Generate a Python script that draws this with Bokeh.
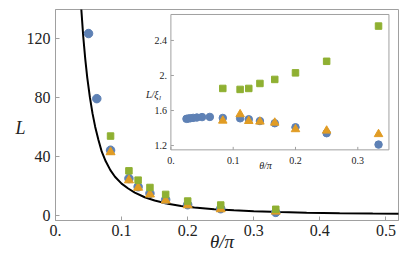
import json
from bokeh.plotting import figure
from bokeh.models import (FixedTicker, CustomJSTickFormatter, Label, Range1d, LinearAxis)
from bokeh.embed import file_html
from bokeh.resources import INLINE

# ---------------- data ----------------
# main panel: L vs theta/pi
blue_theta = [0.05, 0.0625, 0.0833, 0.1111, 0.125, 0.1429, 0.1667, 0.2, 0.25, 0.3333]
blue_L = [123.2, 79.0, 44.0, 24.8, 19.2, 14.7, 10.4, 7.0, 4.3, 1.8]
orange_theta = [0.0833, 0.1111, 0.125, 0.1429, 0.1667, 0.2, 0.25, 0.3333]
orange_L = [42.7, 23.6, 18.6, 14.0, 9.9, 6.7, 4.0, 2.4]
green_theta = [0.0833, 0.1111, 0.125, 0.1429, 0.1667, 0.2, 0.25, 0.3333]
green_L = [53.6, 30.0, 23.7, 18.7, 14.0, 9.5, 6.8, 3.9]

# black reference curve
curve_theta = [0.0375, 0.039, 0.042, 0.045, 0.048, 0.052, 0.056, 0.060, 0.065, 0.070,
               0.076, 0.083, 0.090, 0.100, 0.110, 0.120, 0.135, 0.150, 0.170, 0.190,
               0.210, 0.240, 0.270, 0.300, 0.340, 0.380, 0.430, 0.480, 0.520]
curve_L = [152.0, 140.0, 121.0, 106.0, 93.5, 80.0, 69.0, 60.0, 51.0, 43.0,
           36.5, 30.5, 26.0, 21.3, 18.0, 15.2, 12.1, 9.9, 7.7, 6.2,
           5.1, 4.0, 3.2, 2.6, 2.0, 1.6, 1.27, 1.02, 0.88]

# inset: L/xi vs theta/pi
in_blue_theta = [0.025, 0.0278, 0.0313, 0.0357, 0.0417, 0.05, 0.0625, 0.0833, 0.1111,
                 0.125, 0.1429, 0.1667, 0.2, 0.25, 0.3333]
in_blue_v = [1.505, 1.508, 1.512, 1.516, 1.52, 1.525, 1.527, 1.515, 1.511,
             1.50, 1.48, 1.455, 1.409, 1.341, 1.211]
in_orange_theta = [0.0833, 0.1111, 0.125, 0.1429, 0.1667, 0.2, 0.25, 0.3333]
in_orange_v = [1.484, 1.557, 1.48, 1.473, 1.461, 1.386, 1.370, 1.33]
in_green_theta = [0.0833, 0.1111, 0.125, 0.1429, 0.1667, 0.2, 0.25, 0.3333]
in_green_v = [1.852, 1.841, 1.852, 1.909, 1.955, 2.03, 2.162, 2.564]

main_xticks = [0, 0.1, 0.2, 0.3, 0.4, 0.5]
main_yticks = [0, 40, 80, 120]
inset_xticks = [0, 0.1, 0.2, 0.3]
inset_xlabels = ["0.", "0.1", "0.2", "0.3"]
inset_yticks = [1.2, 1.6, 2.0, 2.4]
inset_ylabels = ["1.2", "1.6", "2.", "2.4"]

# axis limits
main_xlim = (0, 0.519)
main_ylim = (-3.7, 139.5)
inset_xlim = (0.0, 0.35)
inset_ylim = (1.151, 2.6966)
# the inset scales, spread over the whole main frame
inset_x_full = (-0.18523, 0.36533)
inset_y_full = (0.34432, 2.75341)

# ---------------- style ----------------
SERIF = "Liberation Serif"
BLUE = "#5E81B5"
ORANGE = "#E19C24"
GREEN = "#8FB032"
FRAME = "#a0a0a0"
TXT = "#222222"
W, H = 415, 254

fmt_code = "const s = tick.toFixed(1); return s.endsWith('.0') ? s.slice(0, -1) : s;"

p = figure(width=W, height=H, output_backend="svg", toolbar_location=None,
           x_range=Range1d(*main_xlim), y_range=Range1d(*main_ylim),
           min_border_left=55, min_border_right=17, min_border_top=9, min_border_bottom=33)
p.extra_x_ranges = {"ix": Range1d(*inset_x_full)}
p.extra_y_ranges = {"iy": Range1d(*inset_y_full)}
p.grid.visible = False
p.outline_line_color = FRAME

for ax in p.axis:
    ax.axis_line_color = FRAME
    ax.major_tick_line_color = FRAME
    ax.major_tick_in = 4
    ax.major_tick_out = 0
    ax.minor_tick_line_color = None
    ax.major_label_text_font = SERIF
    ax.major_label_text_font_size = "16px"
    ax.major_label_text_color = TXT
p.xaxis.ticker = FixedTicker(ticks=main_xticks)
p.xaxis.formatter = CustomJSTickFormatter(code=fmt_code)
p.yaxis.ticker = FixedTicker(ticks=main_yticks)
p.xaxis.major_label_standoff = 4
p.yaxis.major_label_standoff = 5


def title_axis(tick, text, size, standoff):
    ax = LinearAxis(ticker=FixedTicker(ticks=[tick]),
                    formatter=CustomJSTickFormatter(code="return %s;" % json.dumps(text)))
    ax.axis_line_color = None
    ax.major_tick_line_color = None
    ax.minor_tick_line_color = None
    ax.major_label_text_font = SERIF
    ax.major_label_text_font_style = "italic"
    ax.major_label_text_font_size = size
    ax.major_label_text_color = TXT
    ax.major_label_standoff = standoff
    return ax


# axis titles, placed like the original (L level with y~59, theta/pi at x~0.252)
p.add_layout(title_axis(59, "\u00a0\u00a0L", "18px", -8), "left")
p.add_layout(title_axis(0.252, "θ/π", "19px", -14), "below")

# ---- main panel marks ----
p.line(curve_theta, curve_L, line_color="black", line_width=2)
p.scatter(blue_theta, blue_L, marker="circle", size=8.5, fill_color=BLUE, line_color=BLUE)
p.scatter(orange_theta, orange_L, marker="triangle", size=9, fill_color=ORANGE, line_color=ORANGE)
p.scatter(green_theta, green_L, marker="square", size=6.5, fill_color=GREEN, line_color=GREEN)

# ---- inset ----
IX = dict(x_range_name="ix", y_range_name="iy")
p.quad(left=inset_xlim[0], right=inset_xlim[1], bottom=inset_ylim[0], top=inset_ylim[1],
       fill_color="white", line_color=FRAME, line_width=1, **IX)
# inward ticks (3 px)
tick_dy = 3 / 88.0
tick_dx = 3 / 623.0
p.segment(x0=inset_xticks, y0=[inset_ylim[0]] * len(inset_xticks),
          x1=inset_xticks, y1=[inset_ylim[0] + tick_dy] * len(inset_xticks),
          line_color=FRAME, **IX)
p.segment(x0=[inset_xlim[0]] * len(inset_yticks), y0=inset_yticks,
          x1=[inset_xlim[0] + tick_dx] * len(inset_yticks), y1=inset_yticks,
          line_color=FRAME, **IX)
p.text(x=inset_xticks, y=[inset_ylim[0]] * len(inset_xticks), text=inset_xlabels,
       text_font={"value": SERIF}, text_font_size="10px", text_color=TXT,
       text_align="center", text_baseline="top", y_offset=7, **IX)
p.text(x=[inset_xlim[0]] * len(inset_yticks), y=inset_yticks, text=inset_ylabels,
       text_font={"value": SERIF}, text_font_size="10px", text_color=TXT,
       text_align="right", text_baseline="middle", x_offset=-4, **IX)

p.scatter(in_blue_theta, in_blue_v, marker="circle", size=7.5, fill_color=BLUE, line_color=BLUE, **IX)
p.scatter(in_orange_theta, in_orange_v, marker="triangle", size=8.5, fill_color=ORANGE,
          line_color=ORANGE, **IX)
p.scatter(in_green_theta, in_green_v, marker="square", size=6.5, fill_color=GREEN,
          line_color=GREEN, **IX)

# inset axis titles (screen units measured from the frame's lower-left corner)
for x, y, text, size, align in [(103, 126, "L/ξ", "10px", "right"),
                                (103.5, 123, "l", "7px", "left"),
                                (210, 55, "θ/π", "10px", "center")]:
    p.add_layout(Label(x=x, y=y, x_units="screen", y_units="screen", text=text,
                       text_font=SERIF, text_font_style="italic", text_font_size=size,
                       text_color=TXT, text_align=align, text_baseline="middle"))

open("out.html", "w").write(file_html(p, INLINE))
